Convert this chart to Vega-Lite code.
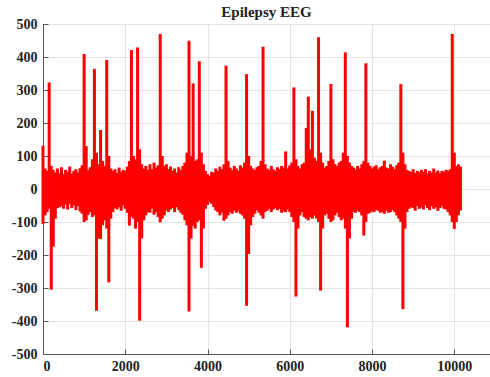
{
  "$schema": "https://vega.github.io/schema/vega-lite/v6.json",
  "width": 447,
  "height": 330,
  "autosize": {"type": "none"},
  "padding": {"left": 43, "top": 24, "right": 0, "bottom": 23},
  "background": "white",
  "title": {"text": "Epilepsy EEG", "font": "Liberation Serif", "fontSize": 15, "fontWeight": "bold", "color": "#222222", "offset": -3, "anchor": "middle"},
  "config": {
    "view": {"stroke": "#555555", "strokeWidth": 1},
    "axis": {
      "grid": true,
      "gridColor": "#e4e4e4",
      "gridWidth": 1,
      "domainColor": "#555555",
      "tickColor": "#555555",
      "tickSize": -5,
      "labelFont": "Liberation Serif",
      "labelFontWeight": "bold",
      "labelFontSize": 14,
      "labelColor": "#222222",
      "title": null,
      "labelExpr": "datum.value + ''"
    }
  },
  "data": {"values": [
    {"t":0,"hi":131,"lo":-106},{"t":50,"hi":62,"lo":-80},{"t":100,"hi":55,"lo":-70},{"t":150,"hi":323,"lo":-60},
    {"t":200,"hi":70,"lo":-305},{"t":250,"hi":58,"lo":-175},{"t":300,"hi":50,"lo":-90},{"t":350,"hi":62,"lo":-58},
    {"t":400,"hi":48,"lo":-55},{"t":450,"hi":66,"lo":-52},{"t":500,"hi":45,"lo":-60},{"t":550,"hi":58,"lo":-48},
    {"t":600,"hi":52,"lo":-62},{"t":650,"hi":68,"lo":-45},{"t":700,"hi":47,"lo":-58},{"t":750,"hi":55,"lo":-50},
    {"t":800,"hi":60,"lo":-64},{"t":850,"hi":50,"lo":-52},{"t":900,"hi":63,"lo":-68},{"t":950,"hi":72,"lo":-75},
    {"t":1000,"hi":409,"lo":-100},{"t":1050,"hi":130,"lo":-95},{"t":1100,"hi":58,"lo":-78},{"t":1150,"hi":66,"lo":-70},
    {"t":1200,"hi":90,"lo":-85},{"t":1250,"hi":364,"lo":-80},{"t":1300,"hi":110,"lo":-369},{"t":1350,"hi":75,"lo":-150},
    {"t":1400,"hi":179,"lo":-152},{"t":1450,"hi":85,"lo":-110},{"t":1500,"hi":70,"lo":-95},{"t":1550,"hi":391,"lo":-120},
    {"t":1600,"hi":100,"lo":-283},{"t":1650,"hi":62,"lo":-90},{"t":1700,"hi":55,"lo":-70},{"t":1750,"hi":60,"lo":-58},
    {"t":1800,"hi":48,"lo":-62},{"t":1850,"hi":65,"lo":-55},{"t":1900,"hi":52,"lo":-66},{"t":1950,"hi":58,"lo":-50},
    {"t":2000,"hi":55,"lo":-60},{"t":2050,"hi":68,"lo":-72},{"t":2100,"hi":85,"lo":-111},{"t":2150,"hi":421,"lo":-85},
    {"t":2200,"hi":100,"lo":-90},{"t":2250,"hi":90,"lo":-120},{"t":2300,"hi":429,"lo":-100},{"t":2350,"hi":120,"lo":-399},
    {"t":2400,"hi":75,"lo":-150},{"t":2450,"hi":62,"lo":-95},{"t":2500,"hi":70,"lo":-80},{"t":2550,"hi":58,"lo":-70},
    {"t":2600,"hi":75,"lo":-72},{"t":2650,"hi":60,"lo":-60},{"t":2700,"hi":80,"lo":-78},{"t":2750,"hi":65,"lo":-70},
    {"t":2800,"hi":72,"lo":-85},{"t":2850,"hi":470,"lo":-101},{"t":2900,"hi":100,"lo":-90},{"t":2950,"hi":70,"lo":-80},
    {"t":3000,"hi":75,"lo":-65},{"t":3050,"hi":60,"lo":-70},{"t":3100,"hi":68,"lo":-62},{"t":3150,"hi":55,"lo":-58},
    {"t":3200,"hi":62,"lo":-70},{"t":3250,"hi":50,"lo":-55},{"t":3300,"hi":66,"lo":-64},{"t":3350,"hi":58,"lo":-72},
    {"t":3400,"hi":70,"lo":-78},{"t":3450,"hi":80,"lo":-95},{"t":3500,"hi":110,"lo":-110},{"t":3550,"hi":449,"lo":-371},
    {"t":3600,"hi":100,"lo":-150},{"t":3650,"hi":320,"lo":-111},{"t":3700,"hi":85,"lo":-120},{"t":3750,"hi":90,"lo":-100},
    {"t":3800,"hi":387,"lo":-95},{"t":3850,"hi":110,"lo":-239},{"t":3900,"hi":75,"lo":-120},{"t":3950,"hi":55,"lo":-60},
    {"t":4000,"hi":45,"lo":-48},{"t":4050,"hi":40,"lo":-40},{"t":4100,"hi":52,"lo":-45},{"t":4150,"hi":50,"lo":-55},
    {"t":4200,"hi":62,"lo":-65},{"t":4250,"hi":55,"lo":-70},{"t":4300,"hi":68,"lo":-80},{"t":4350,"hi":60,"lo":-72},
    {"t":4400,"hi":75,"lo":-96},{"t":4450,"hi":374,"lo":-90},{"t":4500,"hi":85,"lo":-80},{"t":4550,"hi":65,"lo":-70},
    {"t":4600,"hi":58,"lo":-75},{"t":4650,"hi":70,"lo":-66},{"t":4700,"hi":62,"lo":-72},{"t":4750,"hi":55,"lo":-68},
    {"t":4800,"hi":72,"lo":-75},{"t":4850,"hi":65,"lo":-80},{"t":4900,"hi":80,"lo":-90},{"t":4950,"hi":348,"lo":-354},
    {"t":5000,"hi":100,"lo":-197},{"t":5050,"hi":70,"lo":-110},{"t":5100,"hi":62,"lo":-85},{"t":5150,"hi":58,"lo":-75},
    {"t":5200,"hi":66,"lo":-65},{"t":5250,"hi":70,"lo":-72},{"t":5300,"hi":85,"lo":-80},{"t":5350,"hi":431,"lo":-90},
    {"t":5400,"hi":75,"lo":-70},{"t":5450,"hi":62,"lo":-66},{"t":5500,"hi":58,"lo":-60},{"t":5550,"hi":70,"lo":-70},
    {"t":5600,"hi":60,"lo":-62},{"t":5650,"hi":55,"lo":-58},{"t":5700,"hi":66,"lo":-64},{"t":5750,"hi":60,"lo":-60},
    {"t":5800,"hi":70,"lo":-72},{"t":5850,"hi":65,"lo":-68},{"t":5900,"hi":114,"lo":-70},{"t":5950,"hi":62,"lo":-62},
    {"t":6000,"hi":72,"lo":-70},{"t":6050,"hi":80,"lo":-85},{"t":6100,"hi":308,"lo":-100},{"t":6150,"hi":90,"lo":-326},
    {"t":6200,"hi":70,"lo":-120},{"t":6250,"hi":62,"lo":-80},{"t":6300,"hi":75,"lo":-70},{"t":6350,"hi":80,"lo":-85},
    {"t":6400,"hi":185,"lo":-90},{"t":6450,"hi":280,"lo":-95},{"t":6500,"hi":120,"lo":-85},{"t":6550,"hi":237,"lo":-90},
    {"t":6600,"hi":95,"lo":-80},{"t":6650,"hi":85,"lo":-90},{"t":6700,"hi":460,"lo":-100},{"t":6750,"hi":110,"lo":-308},
    {"t":6800,"hi":80,"lo":-120},{"t":6850,"hi":65,"lo":-80},{"t":6900,"hi":70,"lo":-75},{"t":6950,"hi":85,"lo":-90},
    {"t":7000,"hi":318,"lo":-100},{"t":7050,"hi":90,"lo":-95},{"t":7100,"hi":75,"lo":-80},{"t":7150,"hi":70,"lo":-72},
    {"t":7200,"hi":80,"lo":-85},{"t":7250,"hi":85,"lo":-95},{"t":7300,"hi":110,"lo":-90},{"t":7350,"hi":414,"lo":-120},
    {"t":7400,"hi":100,"lo":-419},{"t":7450,"hi":80,"lo":-150},{"t":7500,"hi":70,"lo":-90},{"t":7550,"hi":65,"lo":-70},
    {"t":7600,"hi":58,"lo":-72},{"t":7650,"hi":70,"lo":-66},{"t":7700,"hi":62,"lo":-70},{"t":7750,"hi":75,"lo":-80},
    {"t":7800,"hi":85,"lo":-141},{"t":7850,"hi":381,"lo":-100},{"t":7900,"hi":80,"lo":-75},{"t":7950,"hi":70,"lo":-72},
    {"t":8000,"hi":62,"lo":-68},{"t":8050,"hi":68,"lo":-70},{"t":8100,"hi":72,"lo":-64},{"t":8150,"hi":60,"lo":-66},
    {"t":8200,"hi":66,"lo":-72},{"t":8250,"hi":70,"lo":-70},{"t":8300,"hi":86,"lo":-75},{"t":8350,"hi":65,"lo":-66},
    {"t":8400,"hi":62,"lo":-72},{"t":8450,"hi":75,"lo":-70},{"t":8500,"hi":68,"lo":-64},{"t":8550,"hi":60,"lo":-70},
    {"t":8600,"hi":72,"lo":-80},{"t":8650,"hi":80,"lo":-90},{"t":8700,"hi":318,"lo":-100},{"t":8750,"hi":110,"lo":-364},
    {"t":8800,"hi":75,"lo":-120},{"t":8850,"hi":58,"lo":-70},{"t":8900,"hi":55,"lo":-60},{"t":8950,"hi":52,"lo":-55},
    {"t":9000,"hi":60,"lo":-58},{"t":9050,"hi":48,"lo":-66},{"t":9100,"hi":55,"lo":-52},{"t":9150,"hi":50,"lo":-60},
    {"t":9200,"hi":58,"lo":-55},{"t":9250,"hi":52,"lo":-62},{"t":9300,"hi":60,"lo":-50},{"t":9350,"hi":48,"lo":-58},
    {"t":9400,"hi":55,"lo":-64},{"t":9450,"hi":50,"lo":-52},{"t":9500,"hi":62,"lo":-60},{"t":9550,"hi":50,"lo":-55},
    {"t":9600,"hi":56,"lo":-66},{"t":9650,"hi":48,"lo":-58},{"t":9700,"hi":55,"lo":-52},{"t":9750,"hi":52,"lo":-60},
    {"t":9800,"hi":58,"lo":-62},{"t":9850,"hi":55,"lo":-70},{"t":9900,"hi":60,"lo":-80},{"t":9950,"hi":470,"lo":-100},
    {"t":10000,"hi":110,"lo":-121},{"t":10050,"hi":70,"lo":-100},{"t":10100,"hi":75,"lo":-80},{"t":10150,"hi":68,"lo":-65}
  ]},
  "mark": {"type": "rule", "color": "#ff0000", "strokeWidth": 3},
  "encoding": {
    "x": {"field": "t", "type": "quantitative",
          "scale": {"domain": [0, 10868], "nice": false, "zero": false},
          "axis": {"values": [0, 2000, 4000, 6000, 8000, 10000], "labelPadding": 10}},
    "y": {"field": "lo", "type": "quantitative",
          "scale": {"domain": [-500, 500], "nice": false},
          "axis": {"values": [-500, -400, -300, -200, -100, 0, 100, 200, 300, 400, 500], "labelPadding": 11}},
    "y2": {"field": "hi"}
  }
}
